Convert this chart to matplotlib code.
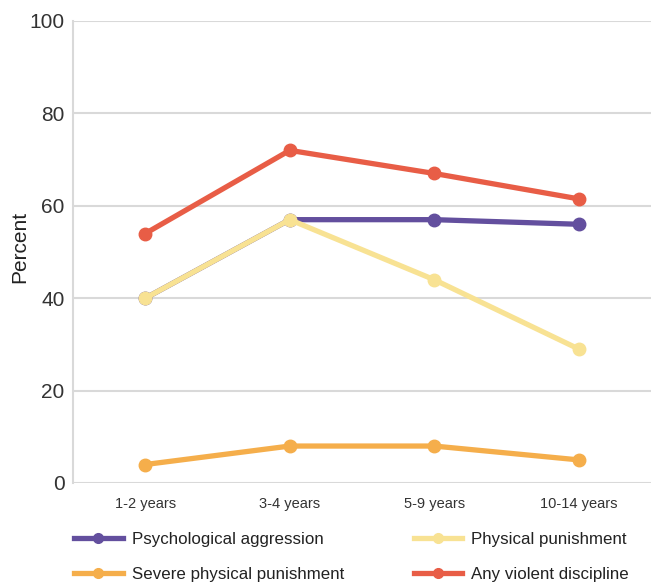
import matplotlib
matplotlib.use("Agg")
import matplotlib.pyplot as plt
from matplotlib.lines import Line2D

categories = ["1-2 years", "3-4 years", "5-9 years", "10-14 years"]
psychological = [40, 57, 57, 56]
physical = [40, 57, 44, 29]
severe = [4, 8, 8, 5]
any_violent = [54, 72, 67, 61.5]
yticks = [0, 20, 40, 60, 80, 100]

plt.rcParams['font.family'] = ['Liberation Sans', 'DejaVu Sans']

fig = plt.figure(figsize=(6.51, 5.83), dpi=100)
ax = fig.add_axes([73/651, 1-483/583, 578/651, 462/583])

series = [
    ("Psychological aggression", psychological, "#634f9e"),
    ("Physical punishment", physical, "#f8e293"),
    ("Severe physical punishment", severe, "#f5ae4b"),
    ("Any violent discipline", any_violent, "#e85d46"),
]
x = list(range(len(categories)))
draw_order = [2, 1, 0, 3]
for i in draw_order:
    name, vals, col = series[i]
    ax.plot(x, vals, color=col, lw=3.8, marker='o', ms=9, solid_capstyle='round', zorder=3 + i)

ax.set_xlim(-0.5, 3.5)
ax.set_ylim(0, 100)
ax.set_yticks(yticks)
ax.set_yticklabels([str(v) for v in yticks], fontsize=15, color="#333333")
ax.set_xticks(x)
ax.set_xticklabels(categories, fontsize=10.5, color="#333333")
ax.tick_params(axis='both', length=0)
ax.tick_params(axis='y', pad=6)
ax.tick_params(axis='x', pad=10)
ax.grid(axis='y', color="#d9d9d9", lw=1.5, zorder=0)
for s in ['top', 'right', 'bottom']:
    ax.spines[s].set_visible(False)
ax.spines['left'].set_color("#d9d9d9")
ax.spines['left'].set_linewidth(1.5)
ax.set_ylabel("Percent", fontsize=15, color="#222222")
ax.yaxis.set_label_coords(-0.076, 0.51)

handles = [Line2D([0], [0], color=c, lw=3.8, marker='o', ms=7) for _, _, c in series]
labels = [n for n, _, _ in series]
order = [0, 2, 1, 3]
leg = fig.legend([handles[i] for i in order], [labels[i] for i in order], ncol=2,
                 loc='upper left', bbox_to_anchor=(59/651, 1-517/583),
                 frameon=False, fontsize=12.2, handlelength=2.85, handletextpad=0.55,
                 columnspacing=4.1, labelspacing=1.15)
for t in leg.get_texts():
    t.set_color("#222222")

fig.savefig("out.png", dpi=100)
